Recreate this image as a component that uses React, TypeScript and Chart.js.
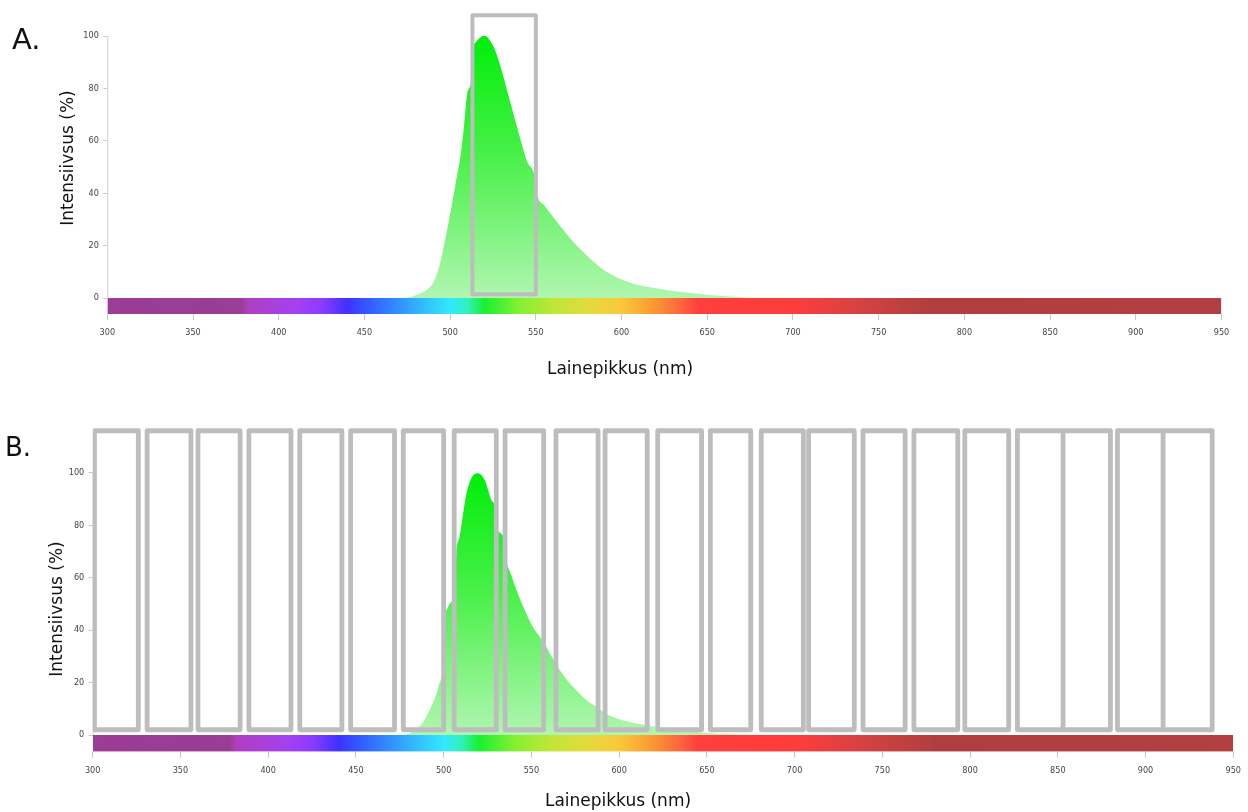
import React, { useEffect, useRef } from "react";
import { Chart, registerables } from "chart.js";

Chart.register(...registerables);

// ---------- data ----------
const X_TICKS = [300, 350, 400, 450, 500, 550, 600, 650, 700, 750, 800, 850, 900, 950];
const Y_TICKS = [0, 20, 40, 60, 80, 100];

const X_TITLE = "Lainepikkus (nm)";
const Y_TITLE = "Intensiivsus (%)";

// Panel A emission spectrum (wavelength nm, intensity %)
const A_WL = [468, 476, 480, 485, 488, 491, 494, 497, 500, 503, 506, 508, 510, 512.5, 513.3, 515.5, 518, 520.4, 523, 526, 530, 535, 540, 545, 549.5, 550.6, 555, 560, 565, 570, 576, 582, 588, 594, 600, 607, 615, 625, 635, 650, 665, 678];
const A_INT = [0, 0.3, 1.2, 2.5, 4, 7, 13, 22, 32, 43, 54, 65, 78, 84, 94, 98, 99.7, 100, 98.5, 95, 87, 75, 63, 52, 46, 40, 35.3, 31, 26.8, 22.8, 18.6, 14.8, 11.5, 9, 7.1, 5.5, 4.3, 3.2, 2.3, 1.3, 0.5, 0];

// Panel B emission spectrum
const B_WL = [474, 480, 485, 489, 492, 495, 497, 499.7, 500.6, 502, 504, 506, 507.3, 509.2, 511, 513, 515.8, 519.6, 523.4, 527.2, 529.4, 530.4, 532.3, 534.6, 535.7, 538.5, 541.5, 547, 551, 555, 558.5, 560.5, 562, 565, 569, 574, 581, 588, 592, 598, 606, 615, 625, 638, 650, 665, 680];
const B_INT = [0, 0.5, 2.5, 5.5, 9.5, 14, 18.4, 28.6, 44, 48, 50.5, 53, 70, 76, 84, 92, 97.9, 99.8, 97.2, 89.6, 86.5, 79, 77, 74, 67, 61, 55.3, 46.4, 41, 37.2, 33.7, 31, 29.5, 26, 22, 18.2, 13.5, 10.2, 8.3, 6.5, 5, 3.8, 2.7, 1.6, 0.8, 0.3, 0];

// Filter windows (nm)
const A_FILTER_START = [513];
const A_FILTER_END = [550];
const A_FILTER_LOW = 1.5;
const A_FILTER_HIGH = 108;

const B_FILTER_START = [301, 331, 360, 389, 418, 447, 477, 506, 535, 564, 592, 622, 652, 681, 708, 739, 768, 797, 827, 853, 884, 910];
const B_FILTER_END = [326, 356, 384, 413, 442, 472, 500, 530, 557, 588, 616, 647, 675, 705, 734, 763, 793, 822, 853, 880, 910, 938];
const B_FILTER_LOW = 2;
const B_FILTER_HIGH = 116;

// Visible spectrum colour band (nm, colour)
const BAND_WL = [300, 378, 382, 410, 425, 440, 452, 470, 490, 500, 510, 520, 540, 560, 580, 600, 620, 635, 645, 700, 740, 780, 950];
const BAND_COLORS = [
  "rgb(155,60,150)", "rgb(152,62,148)", "rgb(176,62,192)", "rgb(165,64,240)", "rgb(140,60,255)",
  "rgb(62,50,255)", "rgb(50,90,255)", "rgb(50,145,255)", "rgb(50,205,255)", "rgb(50,232,255)",
  "rgb(50,240,190)", "rgb(25,240,50)", "rgb(130,240,50)", "rgb(190,230,55)", "rgb(225,220,60)",
  "rgb(250,200,60)", "rgb(250,150,50)", "rgb(252,100,60)", "rgb(255,62,62)", "rgb(255,60,60)",
  "rgb(212,66,66)", "rgb(176,62,62)", "rgb(178,64,66)",
];

// ---------- helpers ----------
const COND = '"DejaVu Sans Condensed", "Liberation Sans Narrow", "DejaVu Sans", sans-serif';
const SANS = '"DejaVu Sans", Verdana, sans-serif';

function rectPath(starts: number[], ends: number[], lo: number, hi: number) {
  const pts: any[] = [];
  starts.forEach((s, i) => {
    const e = ends[i];
    pts.push({ x: s, y: lo }, { x: s, y: hi }, { x: e, y: hi }, { x: e, y: lo }, { x: s, y: lo }, { x: s, y: null });
  });
  return pts;
}

function specGradient(ctx: any) {
  const chart = ctx.chart;
  const ys = chart.scales && chart.scales.y;
  if (!chart.chartArea || !ys) return "rgb(100,240,100)";
  const g = chart.ctx.createLinearGradient(0, ys.getPixelForValue(100), 0, ys.getPixelForValue(0));
  g.addColorStop(0, "rgb(0,238,10)");
  g.addColorStop(0.45, "rgb(72,240,72)");
  g.addColorStop(1, "rgb(176,246,176)");
  return g;
}

function bandGradient(ctx: any) {
  const chart = ctx.chart;
  const xs = chart.scales && chart.scales.x;
  if (!chart.chartArea || !xs) return BAND_COLORS[0];
  const x0 = xs.getPixelForValue(BAND_WL[0]);
  const x1 = xs.getPixelForValue(BAND_WL[BAND_WL.length - 1]);
  const g = chart.ctx.createLinearGradient(x0, 0, x1, 0);
  BAND_WL.forEach((w, i) => {
    g.addColorStop((w - BAND_WL[0]) / (BAND_WL[BAND_WL.length - 1] - BAND_WL[0]), BAND_COLORS[i]);
  });
  return g;
}

type PanelCfg = {
  label: string;
  top: number;
  height: number;
  areaLeft: number;
  areaRight: number;
  areaTop: number;
  areaBottom: number;
  yMin: number;
  yMax: number;
  wl: number[];
  inten: number[];
  fStart: number[];
  fEnd: number[];
  fLow: number;
  fHigh: number;
  rectWidth: number;
  yTitle: { x: number; y: number };
  xTitle: { x: number; y: number };
  labelPos: { left: number; top: number; size: number };
};

const W = 1248;

const PANEL_A: PanelCfg = {
  label: "A.",
  top: 0,
  height: 395,
  areaLeft: 107.3,
  areaRight: 1221.5,
  areaTop: 8.7,
  areaBottom: 314.3,
  yMin: -6.2,
  yMax: 110,
  wl: A_WL,
  inten: A_INT,
  fStart: A_FILTER_START,
  fEnd: A_FILTER_END,
  fLow: A_FILTER_LOW,
  fHigh: A_FILTER_HIGH,
  rectWidth: 4,
  yTitle: { x: 69, y: 158 },
  xTitle: { x: 620, y: 370 },
  labelPos: { left: 12, top: 24.6, size: 29 },
};

const PANEL_B: PanelCfg = {
  label: "B.",
  top: 395,
  height: 417,
  areaLeft: 92.7,
  areaRight: 1234,
  areaTop: 30.5,
  areaBottom: 356.8,
  yMin: -6.4,
  yMax: 118,
  wl: B_WL,
  inten: B_INT,
  fStart: B_FILTER_START,
  fEnd: B_FILTER_END,
  fLow: B_FILTER_LOW,
  fHigh: B_FILTER_HIGH,
  rectWidth: 4.8,
  yTitle: { x: 58, y: 214 },
  xTitle: { x: 618, y: 407 },
  labelPos: { left: 5, top: 38.6, size: 26 },
};

function Panel({ cfg }: { cfg: PanelCfg }) {
  const ref = useRef<HTMLCanvasElement>(null);

  useEffect(() => {
    const canvas = ref.current;
    if (!canvas) return;

    const decor = {
      id: "decor",
      beforeDatasetsDraw(chart: any) {
        const { ctx, scales } = chart;
        const x = chart.chartArea.left + 0.5;
        ctx.save();
        ctx.strokeStyle = "#cfcfcf";
        ctx.lineWidth = 1;
        ctx.beginPath();
        ctx.moveTo(x, scales.y.getPixelForValue(100));
        ctx.lineTo(x, scales.y.getPixelForValue(0));
        ctx.stroke();
        ctx.restore();
      },
      afterDraw(chart: any) {
        const { ctx } = chart;
        ctx.save();
        ctx.fillStyle = "#111";
        ctx.font = `17px ${SANS}`;
        ctx.textAlign = "center";
        ctx.textBaseline = "middle";
        ctx.fillText(X_TITLE, cfg.xTitle.x, cfg.xTitle.y);
        ctx.translate(cfg.yTitle.x, cfg.yTitle.y);
        ctx.rotate(-Math.PI / 2);
        ctx.fillText(Y_TITLE, 0, 0);
        ctx.restore();
      },
    };

    const chart = new Chart(canvas, {
      type: "line",
      data: {
        datasets: [
          {
            label: "filters",
            data: rectPath(cfg.fStart, cfg.fEnd, cfg.fLow, cfg.fHigh),
            borderColor: "#bdbdbd",
            borderWidth: cfg.rectWidth,
            borderJoinStyle: "round",
            borderCapStyle: "round",
            pointRadius: 0,
            fill: false,
            tension: 0,
            order: 0,
          } as any,
          {
            label: "spectrum",
            data: cfg.wl.map((x, i) => ({ x, y: cfg.inten[i] })),
            borderColor: "rgba(0,0,0,0)",
            borderWidth: 0,
            pointRadius: 0,
            fill: "origin",
            backgroundColor: specGradient,
            cubicInterpolationMode: "monotone",
            order: 1,
          } as any,
          {
            label: "band",
            data: [
              { x: BAND_WL[0], y: cfg.yMin },
              { x: BAND_WL[BAND_WL.length - 1], y: cfg.yMin },
            ],
            borderColor: "rgba(0,0,0,0)",
            borderWidth: 0,
            pointRadius: 0,
            fill: { value: 0 },
            backgroundColor: bandGradient,
            order: 2,
          } as any,
        ],
      },
      options: {
        animation: false,
        responsive: false,
        events: [],
        layout: {
          padding: { left: 0, top: cfg.areaTop, right: W - cfg.areaRight, bottom: 0 },
        },
        plugins: {
          legend: { display: false },
          tooltip: { enabled: false },
          title: { display: false },
        },
        scales: {
          x: {
            type: "linear",
            min: X_TICKS[0],
            max: X_TICKS[X_TICKS.length - 1],
            afterBuildTicks: (s: any) => {
              s.ticks = X_TICKS.map((v) => ({ value: v }));
            },
            afterFit: (s: any) => {
              s.height = cfg.height - cfg.areaBottom;
            },
            grid: { drawOnChartArea: false, tickLength: 6, color: "#c8c8c8" },
            border: { display: false },
            ticks: {
              padding: 7,
              autoSkip: false,
              maxRotation: 0,
              color: "#444",
              font: { size: 9, family: COND },
            },
          },
          y: {
            type: "linear",
            min: cfg.yMin,
            max: cfg.yMax,
            afterBuildTicks: (s: any) => {
              s.ticks = Y_TICKS.map((v) => ({ value: v }));
            },
            afterFit: (s: any) => {
              s.width = cfg.areaLeft;
            },
            grid: { drawOnChartArea: false, tickLength: 4, color: "#c8c8c8" },
            border: { display: false },
            ticks: {
              padding: 4.5,
              color: "#444",
              font: { size: 9, family: COND },
            },
          },
        },
      } as any,
      plugins: [decor],
    });

    return () => chart.destroy();
  }, [cfg]);

  return (
    <div style={{ position: "absolute", left: 0, top: cfg.top, width: W, height: cfg.height }}>
      <canvas ref={ref} width={W} height={cfg.height} style={{ display: "block", width: W, height: cfg.height }} />
      <div
        style={{
          position: "absolute",
          left: cfg.labelPos.left,
          top: cfg.labelPos.top,
          fontFamily: SANS,
          fontSize: cfg.labelPos.size,
          lineHeight: 1,
          color: "#111",
        }}
      >
        {cfg.label}
      </div>
    </div>
  );
}

export default function App() {
  return (
    <div style={{ position: "absolute", left: 0, top: 0, width: W, height: 812, background: "#fff", overflow: "hidden" }}>
      <Panel cfg={PANEL_A} />
      <Panel cfg={PANEL_B} />
    </div>
  );
}
